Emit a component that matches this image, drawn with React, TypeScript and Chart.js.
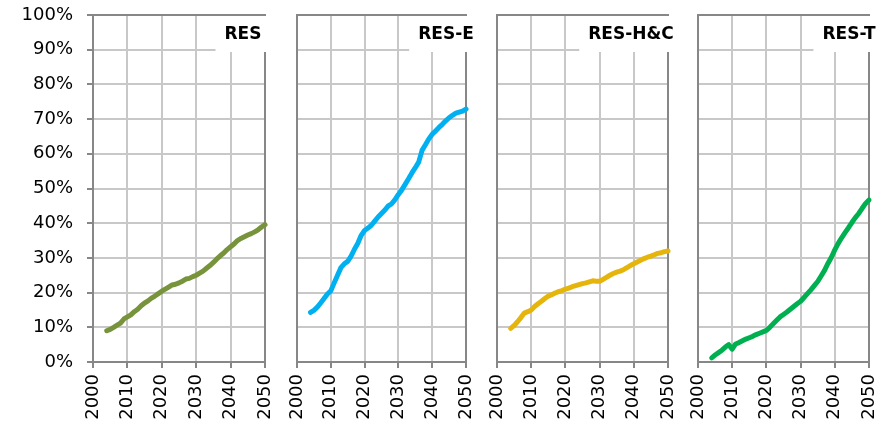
import React, { useEffect, useRef } from 'react';
import { Chart, registerables } from 'chart.js';

Chart.register(...registerables);

// ---- data ----
const years = [
  2004, 2005, 2006, 2007, 2008, 2009, 2010, 2011, 2012, 2013, 2014, 2015, 2016, 2017, 2018, 2019,
  2020, 2021, 2022, 2023, 2024, 2025, 2026, 2027, 2028, 2029, 2030, 2031, 2032, 2033, 2034, 2035,
  2036, 2037, 2038, 2039, 2040, 2041, 2042, 2043, 2044, 2045, 2046, 2047, 2048, 2049, 2050,
];

const resValues = [
  9.0, 9.4, 10.0, 10.6, 11.2, 12.4, 13.0, 13.6, 14.5, 15.2, 16.2, 17.0, 17.6, 18.4, 19.0, 19.7,
  20.4, 21.0, 21.6, 22.2, 22.4, 22.8, 23.3, 23.9, 24.1, 24.6, 25.0, 25.6, 26.2, 27.0, 27.8, 28.7,
  29.7, 30.6, 31.4, 32.4, 33.2, 34.0, 35.0, 35.6, 36.1, 36.6, 37.0, 37.5, 38.1, 38.9, 39.6,
];

const resEValues = [
  14.3, 14.9, 15.8, 17.0, 18.3, 19.6, 20.5, 22.8, 25.0, 27.2, 28.3, 29.0, 30.5, 32.5, 34.2, 36.5,
  37.9, 38.6, 39.4, 40.6, 41.8, 42.8, 43.8, 45.0, 45.6, 46.8, 48.3, 49.6, 51.2, 52.8, 54.5, 56.0,
  57.6, 61.0, 62.6, 64.3, 65.6, 66.6, 67.6, 68.5, 69.5, 70.4, 71.1, 71.7, 72.0, 72.3, 72.9,
];

const resHCValues = [
  9.7, 10.5, 11.6, 12.8, 14.1, 14.5, 15.0, 16.0, 16.8, 17.5, 18.3, 19.0, 19.4, 19.9, 20.3, 20.6,
  21.0, 21.3, 21.7, 22.0, 22.3, 22.6, 22.8, 23.1, 23.4, 23.3, 23.3, 23.8, 24.4, 25.0, 25.5, 25.9,
  26.2, 26.6, 27.2, 27.8, 28.3, 28.8, 29.3, 29.8, 30.2, 30.5, 30.9, 31.3, 31.5, 31.8, 32.0,
];

const resTValues = [
  1.2, 2.0, 2.7, 3.4, 4.3, 5.0, 3.7, 5.2, 5.6, 6.1, 6.6, 7.0, 7.4, 7.9, 8.3, 8.7,
  9.1, 10.0, 11.0, 12.0, 13.0, 13.7, 14.4, 15.2, 16.0, 16.8, 17.5, 18.6, 19.7, 20.8, 22.0, 23.2,
  24.8, 26.4, 28.4, 30.2, 32.3, 34.2, 35.8, 37.3, 38.7, 40.2, 41.6, 42.8, 44.3, 45.7, 46.7,
];

const panelTitles = ['RES', 'RES-E', 'RES-H&C', 'RES-T'];
const panelSeries = [resValues, resEValues, resHCValues, resTValues];
const xTickValues = [2000, 2010, 2020, 2030, 2040, 2050];
const yTickValues = [0, 10, 20, 30, 40, 50, 60, 70, 80, 90, 100];

// ---- styles / layout ----
const panelColors = ['#77933C', '#00B0F0', '#E6B50C', '#00B050'];
const PANELS = [
  { left: 93, right: 265, showY: true, titleCenter: -22 },
  { left: 297, right: 466, showY: false, titleCenter: -20 },
  { left: 497, right: 668, showY: false, titleCenter: -37 },
  { left: 698, right: 869, showY: false, titleCenter: -20 },
];
const TOP = 15;
const BOTTOM = 362;
const H = 421;
const AXIS = '#878787';
const GRID = '#c8c8c8';
const FONT = '"DejaVu Sans", Verdana, sans-serif';

function Panel({ idx }: { idx: number }) {
  const ref = useRef<HTMLCanvasElement>(null);
  const p = PANELS[idx];
  const canvasLeft = p.showY ? 0 : p.left - 14;
  const padRight = idx === 3 ? 16 : 20;
  const width = p.right + padRight - canvasLeft;

  useEffect(() => {
    if (!ref.current) return;
    const title = panelTitles[idx];
    const framePlugin = {
      id: 'frame' + idx,
      beforeDatasetsDraw(chart: any) {
        const { ctx, chartArea: a } = chart;
        ctx.save();
        ctx.strokeStyle = AXIS;
        ctx.lineWidth = 2;
        ctx.strokeRect(a.left, a.top, a.right - a.left, a.bottom - a.top);
        ctx.restore();
      },
      afterDatasetsDraw(chart: any) {
        const { ctx, chartArea: a } = chart;
        ctx.save();
        ctx.font = 'bold 17px ' + FONT;
        const w = ctx.measureText(title).width;
        const cx = a.right + p.titleCenter;
        const textLeft = cx - w / 2;
        const boxLeft = textLeft - 9;
        const boxRight = Math.max(textLeft + w + 2, a.right + 2);
        ctx.fillStyle = '#ffffff';
        ctx.fillRect(boxLeft, a.top + 1, boxRight - boxLeft, 36);
        ctx.fillStyle = '#000000';
        ctx.textAlign = 'left';
        ctx.textBaseline = 'alphabetic';
        ctx.fillText(title, textLeft, a.top + 24);
        ctx.restore();
      },
    };

    const chart = new Chart(ref.current, {
      type: 'line',
      data: {
        datasets: [
          {
            label: title,
            data: years.map((y, i) => ({ x: y, y: panelSeries[idx][i] })),
            borderColor: panelColors[idx],
            backgroundColor: panelColors[idx],
            borderWidth: 5,
            pointRadius: 0,
            tension: 0,
            borderCapStyle: 'round',
            borderJoinStyle: 'round',
            clip: false,
          } as any,
        ],
      },
      options: {
        animation: false,
        responsive: false,
        maintainAspectRatio: false,
        events: [],
        layout: {
          padding: { left: p.showY ? 0 : 14, right: padRight, top: TOP, bottom: 0 },
        },
        plugins: {
          legend: { display: false },
          tooltip: { enabled: false },
          title: { display: false },
        },
        scales: {
          x: {
            type: 'linear',
            min: 2000,
            max: 2050,
            afterBuildTicks: (s: any) => {
              s.ticks = xTickValues.map((v) => ({ value: v }));
            },
            afterFit: (s: any) => {
              s.height = H - BOTTOM;
              s.paddingLeft = 0;
              s.paddingRight = 0;
            },
            ticks: {
              autoSkip: false,
              maxRotation: 90,
              minRotation: 90,
              padding: 6,
              color: '#000',
              font: { family: FONT, size: 18 },
              callback: (v: any) => String(v),
            },
            grid: {
              color: GRID,
              lineWidth: 2,
              tickColor: AXIS,
              tickWidth: 2,
              tickLength: 6,
              drawTicks: true,
            },
            border: { display: false },
          },
          y: {
            type: 'linear',
            min: 0,
            max: 100,
            afterBuildTicks: (s: any) => {
              s.ticks = yTickValues.map((v) => ({ value: v }));
            },
            afterFit: (s: any) => {
              s.width = p.showY ? p.left - canvasLeft : 0;
              s.paddingTop = 0;
              s.paddingBottom = 0;
            },
            ticks: {
              display: p.showY,
              padding: 14,
              color: '#000',
              font: { family: FONT, size: 18 },
              callback: (v: any) => v + '%',
            },
            grid: {
              color: GRID,
              lineWidth: 2,
              tickColor: AXIS,
              tickWidth: 2,
              tickLength: 6,
              drawTicks: p.showY,
            },
            border: { display: false },
          },
        },
      } as any,
      plugins: [framePlugin],
    });
    return () => chart.destroy();
  }, []);

  return (
    <canvas
      ref={ref}
      width={width}
      height={H}
      style={{ position: 'absolute', left: canvasLeft, top: 0, width, height: H }}
    />
  );
}

export default function App() {
  return (
    <div
      style={{
        position: 'fixed',
        left: 0,
        top: 0,
        width: 885,
        height: H,
        overflow: 'hidden',
        background: '#ffffff',
      }}
    >
      {PANELS.map((_, i) => (
        <Panel key={i} idx={i} />
      ))}
    </div>
  );
}
